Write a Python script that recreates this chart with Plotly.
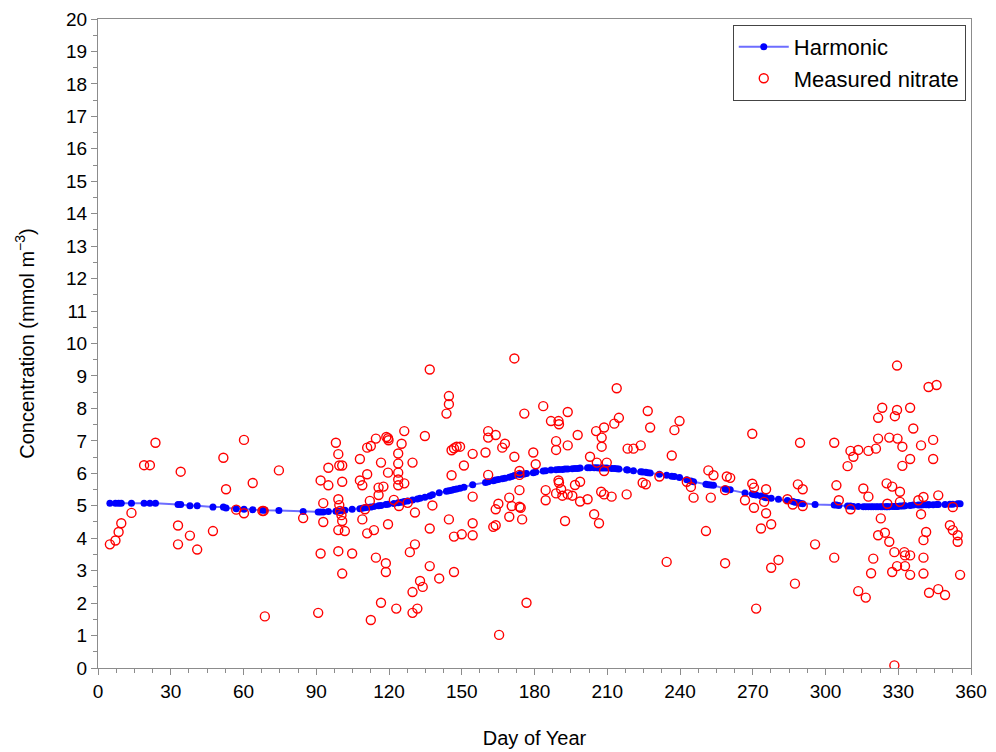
import plotly.graph_objects as go

# Measured nitrate (day of year, concentration)
meas_day = [
    4.9, 7.2, 8.5, 9.6, 13.8, 19.0, 21.4, 23.7, 33.0, 33.0, 34.1, 37.9, 40.9, 47.4, 51.7, 52.8,
    57.0, 60.2, 60.2, 63.8, 67.8, 68.3, 68.8, 74.6, 84.6,
    90.8, 91.8, 91.8, 92.9, 92.9, 95.0, 95.0, 98.1, 99.1, 99.1, 99.1, 99.1, 99.5, 99.5, 100.7,
    99.8, 100.4, 100.7, 100.7, 100.7, 101.8, 104.8, 108.0, 108.0, 109.0, 109.0, 110.1, 111.0,
    111.0, 111.0, 112.5, 112.5, 112.1, 113.8, 114.6, 114.6, 115.7, 115.7, 116.7, 116.7, 117.7,
    118.9, 119.6, 119.8, 118.7, 118.7, 119.6, 119.6, 122.0, 123.0, 123.8, 123.8, 123.8, 123.8,
    123.8, 124.1, 125.2, 126.3, 126.3, 127.7, 128.6, 129.7, 129.7, 129.7, 130.7, 130.7, 131.7,
    132.8, 133.9, 134.8, 136.8, 136.8, 136.8, 137.9, 140.7, 143.7, 144.7, 144.7, 144.7, 145.8,
    145.8, 146.8, 146.8, 146.8, 147.9, 149.3, 150.0, 150.9, 154.5, 154.5, 154.5, 154.5,
    159.8, 160.9, 160.9, 160.9, 164.0, 164.0, 165.1, 163.0, 164.0, 165.4, 166.7, 167.8, 169.6,
    169.6, 170.6, 171.7, 171.7, 173.8, 173.8, 173.8, 173.8, 174.3, 174.9, 175.8, 176.7, 179.5,
    180.5, 183.6, 184.6, 184.6, 186.8, 188.9, 188.9, 188.9, 189.9, 190.1, 189.9, 190.1, 191.0,
    191.5, 192.6, 193.7, 193.7, 193.7, 195.6, 196.7, 197.8, 198.8, 198.8, 201.9, 202.9, 204.6,
    205.4, 205.7, 206.6, 207.7, 207.7, 207.5, 208.7, 208.7, 208.7, 209.8, 211.8, 212.9, 213.9,
    214.8, 218.0, 218.4, 220.8, 223.8, 224.6, 225.9, 226.7, 227.7,
    231.5, 234.5, 236.6, 237.7, 239.8, 242.8, 244.5, 245.6, 250.7, 251.7, 252.7, 253.8, 258.6,
    258.6, 259.3, 260.7, 266.8, 269.8, 269.8, 270.5, 270.5, 271.4, 273.4, 274.7, 275.5, 275.5,
    277.6, 277.6, 280.6, 284.3, 286.5, 287.4, 288.6, 289.5, 290.6, 290.6, 295.7,
    303.6, 303.6, 304.5, 305.5, 309.1, 310.3, 310.3, 311.5, 313.5, 313.5, 315.6, 316.6, 317.7,
    317.7, 318.8, 319.7, 320.8, 321.7, 321.7, 321.7, 322.8, 323.4, 324.5, 325.2, 325.5, 326.3,
    326.3, 327.5, 327.5, 328.4, 328.4, 328.6, 329.5, 329.5, 329.5, 329.7, 330.7, 330.7, 331.7,
    331.7, 332.5, 332.8, 332.8, 334.9, 334.9, 334.9, 334.9, 336.2, 338.3, 339.4, 339.4, 340.4,
    340.4, 340.4, 340.4, 341.5, 342.5, 342.7, 344.4, 344.4, 345.8, 346.5, 346.5, 349.3, 351.3,
    352.5, 352.5, 354.5, 354.5, 355.5,
]
meas_val = [
    3.81, 3.93, 4.19, 4.46, 4.78, 6.25, 6.25, 6.94, 4.39, 3.81, 6.05, 4.08, 3.65, 4.22, 6.48, 5.51,
    4.88, 7.03, 4.77, 5.70, 4.84, 4.84, 1.59, 6.09, 4.62,
    1.70, 3.53, 5.78, 5.08, 4.50, 6.17, 5.63, 6.94, 6.59, 3.60, 4.25, 5.20, 5.02, 6.24, 6.24,
    4.84, 4.71, 4.53, 5.74, 2.91, 4.22, 3.53, 6.44, 5.78, 5.63, 4.58, 4.89, 5.97,
    6.79, 4.15, 6.84, 1.48, 5.15, 4.25, 3.40, 7.07, 5.56, 5.33, 6.33, 2.01, 5.59,
    7.12, 7.08, 7.02, 3.23, 2.96, 4.43, 6.02, 5.18, 1.83, 6.61, 6.30, 6.02, 5.81,
    5.63, 4.99, 6.91, 7.30, 5.69, 5.09, 3.57, 6.33, 2.34, 1.70, 3.81, 4.79, 1.83,
    2.68, 2.50, 7.15, 9.20, 4.30, 3.14, 5.01, 2.76, 7.84, 8.38, 8.13, 4.58, 6.71,
    5.94, 6.77, 4.05, 2.96, 6.82, 6.82, 4.12, 6.24, 6.60, 5.28, 4.46, 4.09,
    6.64, 7.30, 7.10, 5.95, 7.18, 4.89, 5.06, 4.35, 4.40, 1.02, 6.79, 6.91, 5.25,
    4.66, 4.99, 9.54, 6.51, 6.07, 5.95, 5.48, 4.97, 4.94, 4.58, 7.84, 2.01, 6.64,
    6.28, 8.07, 5.48, 5.17, 7.61, 6.99, 6.72, 5.38, 7.61, 7.51, 5.78, 5.71, 5.51,
    5.31, 4.53, 7.89, 6.86, 5.35, 5.31, 5.64, 7.18, 5.74, 5.13, 5.20, 6.51, 4.74,
    7.30, 6.33, 4.46, 7.10, 6.82, 5.43, 7.41, 6.07, 5.35, 6.33, 5.28, 7.53, 8.62,
    7.71, 5.35, 6.76, 6.76, 6.86, 5.71, 5.66, 7.92, 7.41,
    5.90, 3.27, 6.55, 7.33, 7.61, 5.74, 5.58, 5.25, 4.22, 6.09, 5.25, 5.94, 3.23,
    5.48, 5.90, 5.86, 5.17, 7.22, 5.68, 5.56, 4.94, 1.83, 4.30, 5.12, 5.51, 4.77,
    4.43, 3.09, 3.33, 5.20, 5.04, 2.60, 5.66, 6.94, 5.51, 4.99, 3.81,
    6.94, 3.40, 5.63, 5.17, 6.22, 6.69, 4.89, 6.51, 6.72, 2.37, 5.53, 2.17, 5.28,
    6.69, 2.92, 3.37, 6.76, 7.71, 7.07, 4.09, 4.61, 8.02, 4.17, 5.69, 5.06, 7.10,
    3.89, 5.59, 2.96, 3.57, 0.08, 7.76, 7.95, 9.32, 3.14, 7.07, 5.43, 5.12, 6.82,
    6.23, 3.57, 3.47, 3.14, 8.02, 6.44, 3.47, 2.87, 7.38, 5.17, 6.86, 4.74, 5.27,
    3.94, 3.40, 2.91, 4.19, 8.66, 2.32, 7.03, 6.44, 8.72, 5.32, 2.43, 2.25, 4.40,
    4.96, 4.25, 4.09, 3.89, 2.87,
]

# Harmonic fit
harm_day = [
    4.9, 7.2, 8.5, 9.6, 13.8, 19.0, 21.4, 23.7, 33.0, 34.1, 37.9, 40.9, 47.4, 51.7, 52.8, 57.0,
    60.2, 63.8, 67.8, 68.8, 74.6, 84.6,
    90.8, 91.8, 92.9, 95.0, 98.1, 99.1, 100.7, 101.8, 104.8, 108.0, 109.0, 110.1, 111.0, 112.5,
    113.8, 115.7, 116.7, 118.7, 119.6, 122.0, 123.8, 125.2, 126.3, 127.7, 129.7, 131.7, 132.8,
    134.8, 136.8, 137.9, 140.7, 143.7, 144.7, 145.8, 146.8, 147.9, 149.3, 150.9, 154.5, 159.8,
    160.9, 163.0, 164.0, 165.1, 166.7, 167.8, 169.6, 170.6, 171.7, 173.8, 174.9, 175.8, 176.7,
    179.5, 180.5, 183.6, 184.6, 186.8, 188.9, 190.1, 191.5, 192.6, 193.7, 195.6, 196.7, 197.8,
    198.8, 201.9, 202.9, 204.6, 205.7, 206.6, 207.7, 208.7, 209.8, 211.8, 212.9, 213.9, 214.8,
    218.0, 218.4, 220.8, 223.8, 224.6, 225.9, 226.7, 227.7, 231.5, 234.5, 236.6, 237.7, 239.8,
    242.8, 244.5, 245.6, 250.7, 251.7, 252.7, 253.8, 258.6, 259.3, 260.7, 266.8, 269.8, 270.5,
    271.4, 273.4, 274.7, 275.5, 277.6, 280.6, 284.3, 286.5, 287.4, 288.6, 289.5, 290.6, 295.7,
    303.6, 304.5, 305.5, 309.1, 310.3, 311.5, 313.5, 315.6, 316.6, 317.7, 318.8, 319.7, 320.8,
    321.7, 322.8, 323.4, 324.5, 325.2, 325.5, 326.3, 327.5, 328.4, 328.6, 329.5, 329.7, 330.7,
    331.7, 332.5, 332.8, 334.9, 336.2, 338.3, 339.4, 340.4, 341.5, 342.5, 342.7, 344.4, 345.8,
    346.5, 349.3, 351.3, 352.5, 354.5, 355.5,
]
harm_val = [
    5.08, 5.08, 5.08, 5.08, 5.08, 5.08, 5.08, 5.08, 5.04, 5.04, 5.00, 5.00, 4.96, 4.96, 4.93, 4.91,
    4.89, 4.88, 4.86, 4.86, 4.85, 4.82,
    4.81, 4.81, 4.81, 4.82, 4.83, 4.84, 4.85, 4.86, 4.89, 4.91, 4.92, 4.94, 4.95, 4.96,
    4.98, 5.00, 5.01, 5.04, 5.05, 5.07, 5.09, 5.11, 5.13, 5.15, 5.18, 5.21, 5.23,
    5.26, 5.30, 5.34, 5.40, 5.45, 5.46, 5.48, 5.50, 5.52, 5.54, 5.57, 5.65, 5.72,
    5.74, 5.77, 5.79, 5.81, 5.83, 5.85, 5.88, 5.90, 5.93, 5.96, 5.97, 5.98, 5.99,
    6.02, 6.04, 6.07, 6.08, 6.10, 6.11, 6.12, 6.12, 6.13, 6.13, 6.14, 6.15, 6.15,
    6.16, 6.17, 6.17, 6.17, 6.17, 6.16, 6.16, 6.16, 6.16, 6.15, 6.15, 6.14, 6.13,
    6.11, 6.10, 6.08, 6.05, 6.04, 6.03, 6.02, 6.01, 5.97, 5.94, 5.91, 5.90, 5.87,
    5.80, 5.76, 5.74, 5.66, 5.65, 5.64, 5.63, 5.52, 5.51, 5.49, 5.39, 5.36, 5.35,
    5.33, 5.30, 5.27, 5.25, 5.23, 5.20, 5.16, 5.13, 5.11, 5.10, 5.08, 5.06, 5.04,
    5.02, 5.02, 5.01, 4.99, 4.99, 4.98, 4.98, 4.97, 4.97, 4.97, 4.97, 4.97, 4.97,
    4.97, 4.97, 4.97, 4.97, 4.97, 4.97, 4.97, 4.98, 4.98, 4.98, 4.98, 4.98, 4.99,
    4.99, 5.00, 5.00, 5.01, 5.02, 5.02, 5.02, 5.03, 5.03, 5.03, 5.03, 5.03, 5.04,
    5.04, 5.04, 5.05, 5.05, 5.06, 5.06,
]

x_ticks = list(range(0, 361, 30))
y_ticks = list(range(0, 21, 1))

FONT = "Liberation Sans, Arial, sans-serif"

fig = go.Figure()
fig.add_trace(go.Scatter(
    x=harm_day, y=harm_val, mode="lines+markers", name="Harmonic",
    line=dict(color="rgba(60,60,255,0.75)", width=2),
    marker=dict(color="#0000FF", size=7, symbol="circle"),
))
fig.add_trace(go.Scatter(
    x=meas_day, y=meas_val, mode="markers", name="Measured nitrate",
    marker=dict(symbol="circle-open", color="#FF0000", size=9, line=dict(width=1.4, color="#FF0000")),
))

axis_common = dict(
    showgrid=False, zeroline=False, showline=True, linecolor="#8c8c8c", linewidth=1,
    mirror=True, ticks="outside", ticklen=6, tickcolor="#8c8c8c", tickwidth=1,
    tickfont=dict(family=FONT, size=19, color="black"), automargin=False,
)

fig.update_layout(
    width=996, height=752,
    margin=dict(l=98, r=25, t=19, b=84),
    paper_bgcolor="white", plot_bgcolor="white",
    font=dict(family=FONT, color="black"),
    xaxis=dict(
        range=[0, 360], tickvals=x_ticks, ticktext=[str(v) for v in x_ticks],
        title=dict(text="Day of Year", font=dict(family=FONT, size=20), standoff=30),
        minor=dict(dtick=7.5, tick0=0, ticks="outside", ticklen=4, tickcolor="#8c8c8c", showgrid=False),
        **axis_common,
    ),
    yaxis=dict(
        range=[0, 20], tickvals=y_ticks, ticktext=[str(v) for v in y_ticks],
        title=dict(text="Concentration (mmol m<sup>\u22123</sup>)", font=dict(family=FONT, size=20), standoff=26),
        minor=dict(dtick=0.5, tick0=0, ticks="outside", ticklen=4, tickcolor="#8c8c8c", showgrid=False),
        **axis_common,
    ),
    legend=dict(
        x=0.994, y=0.991, xanchor="right", yanchor="top",
        bgcolor="white", bordercolor="#444444", borderwidth=1,
        font=dict(family=FONT, size=22, color="black"),
        itemwidth=50, tracegroupgap=2,
        entrywidth=250, entrywidthmode="pixels",
    ),
    showlegend=True,
)

fig.write_html("out.html")
